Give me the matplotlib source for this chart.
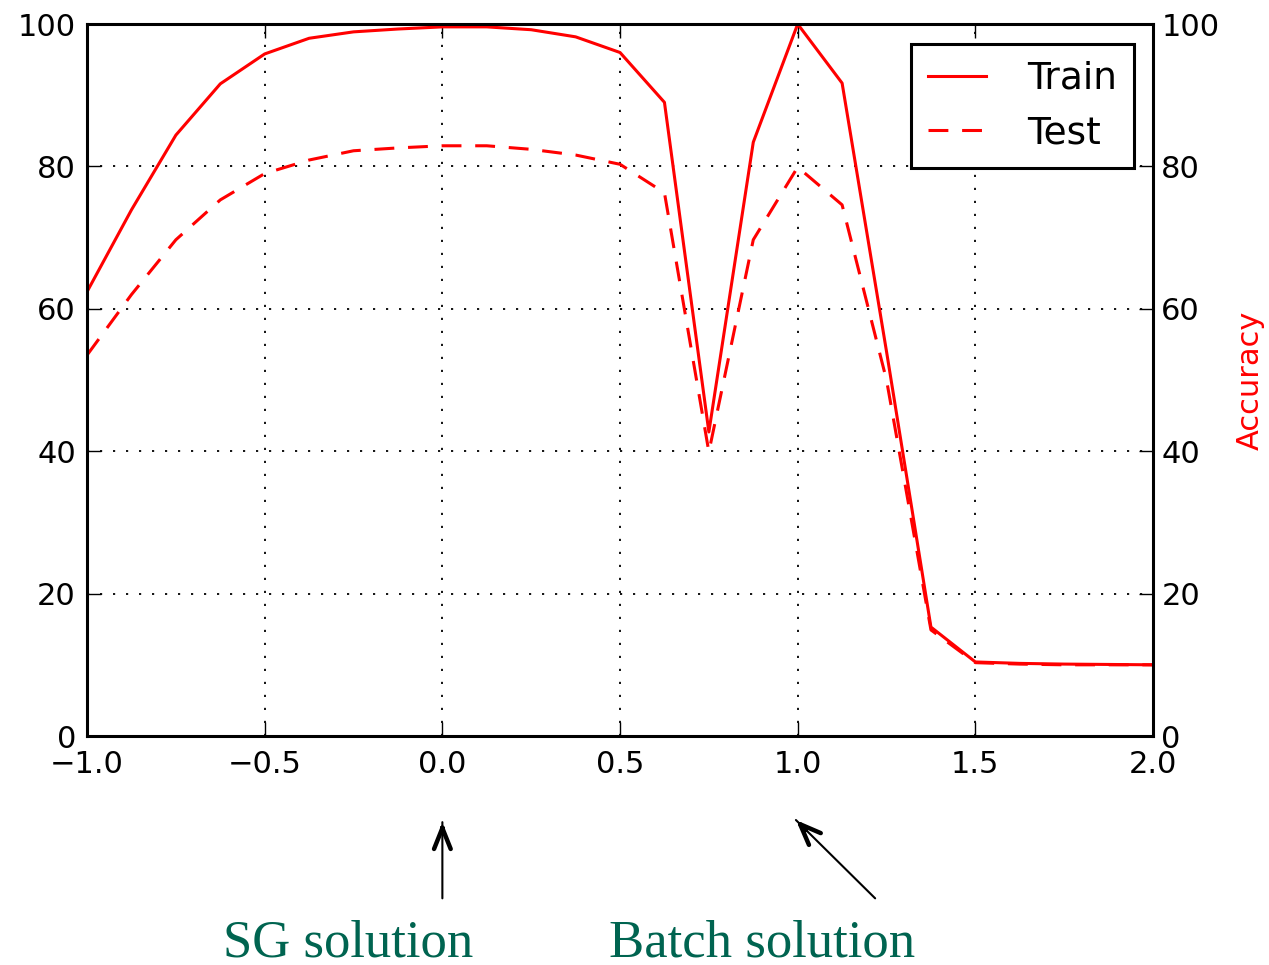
import matplotlib
matplotlib.use("Agg")
import matplotlib.pyplot as plt

# ------------ data -------------#
x_vals = [-1.0, -0.875, -0.75, -0.625, -0.5, -0.375, -0.25, -0.125, 0.0,
          0.125, 0.25, 0.375, 0.5, 0.625, 0.75, 0.875, 1.0, 1.125, 1.25,
          1.375, 1.5, 1.625, 1.75, 1.875, 2.0]
train_acc = [62.4, 73.9, 84.4, 91.6, 95.8, 98.0, 98.9, 99.3, 99.6,
             99.6, 99.2, 98.2, 96.0, 89.0, 42.7, 83.4, 100.0, 91.7, 54.0,
             15.3, 10.4, 10.2, 10.1, 10.05, 10.0]
test_acc = [53.5, 62.0, 69.7, 75.3, 79.0, 80.9, 82.2, 82.6, 82.9,
            82.9, 82.4, 81.6, 80.3, 76.3, 39.9, 69.7, 79.9, 74.6, 50.0,
            14.9, 10.3, 10.1, 10.0, 10.0, 10.0]
x_ticks = [-1.0, -0.5, 0.0, 0.5, 1.0, 1.5, 2.0]
y_ticks = [0, 20, 40, 60, 80, 100]

# ------------ plotting -------------#
fig = plt.figure(figsize=(12.69, 9.65), dpi=100)
ax = fig.add_axes([0.0686, 0.2373, 0.84, 0.7378])

ax.plot(x_vals, train_acc, color="red", lw=2.2, label="Train")
ax.plot(x_vals, test_acc, color="red", lw=2.2, linestyle=(0, (6.5, 4.5)), label="Test")

ax.set_xlim(-1, 2)
ax.set_ylim(0, 100)
ax.set_xticks(x_ticks)
ax.set_yticks(y_ticks)
ax.grid(color="black", linestyle=(0, (1.2, 6)), linewidth=1.3)

for side in ["left", "right", "top", "bottom"]:
    ax.spines[side].set_linewidth(2.2)
ax.tick_params(axis="both", direction="in", length=10, width=1, labelsize=22, top=True)
ax.tick_params(axis="x", pad=10)
ax.tick_params(axis="y", pad=8)

# right side axis
ax2 = ax.twinx()
ax2.set_ylim(0, 100)
ax2.set_yticks(y_ticks)
ax2.tick_params(axis="y", direction="in", length=10, width=1, labelsize=22, pad=6)
ax2.set_ylabel("Accuracy", color="red", fontsize=22, labelpad=12)

leg = ax.legend(loc="upper right", fontsize=27, handlelength=1.55, handletextpad=1.1,
                borderpad=0.45, labelspacing=0.5, fancybox=False, framealpha=1,
                borderaxespad=0, bbox_to_anchor=(0.982, 0.972))
leg.get_frame().set_edgecolor("black")
leg.get_frame().set_linewidth(2.2)

# annotations under the axes: thin shaft + bold open head
trans = ax.get_xaxis_transform()
shaft_kw = dict(arrowstyle="-", lw=1.5, color="black", shrinkA=0, shrinkB=0)
head_kw = dict(arrowstyle="->,head_length=0.5,head_width=0.2", lw=3.2, color="black",
               mutation_scale=30, shrinkA=0, shrinkB=0, joinstyle="round", capstyle="round")

arrows = [((0.0, -0.121), (0.0, -0.228), (0.0, -0.135)),
          ((0.995, -0.118), (1.218, -0.228), (1.023, -0.132))]
for tip, tail, near in arrows:
    ax.annotate("", xy=tip, xytext=tail, xycoords=trans, textcoords=trans,
                arrowprops=shaft_kw, annotation_clip=False)
    ax.annotate("", xy=tip, xytext=near, xycoords=trans, textcoords=trans,
                arrowprops=head_kw, annotation_clip=False)

ax.text(-0.265, -0.310, "SG solution", transform=trans, ha="center", va="baseline",
        fontsize=38, color="#006450", family="Liberation Serif")
ax.text(0.9, -0.310, "Batch solution", transform=trans, ha="center", va="baseline",
        fontsize=38, color="#006450", family="Liberation Serif")

fig.savefig("out.png", dpi=100)
